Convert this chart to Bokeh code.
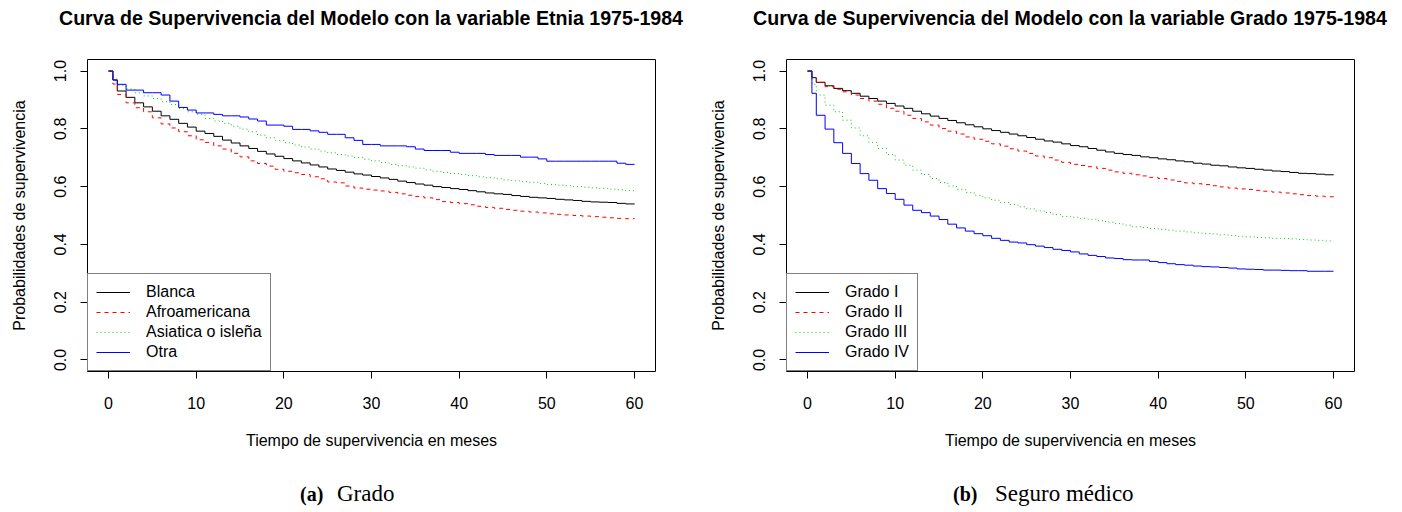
from bokeh.plotting import figure
from bokeh.layouts import row, column
from bokeh.models import (FixedTicker, PrintfTickFormatter, Range1d,
                          Legend, LegendItem, Div)
from bokeh.embed import file_html
from bokeh.resources import INLINE

# Survival time grid (months)
months = [0, 0.5] + list(range(1, 61))

x_ticks = [0, 10, 20, 30, 40, 50, 60]
y_ticks = [0.0, 0.2, 0.4, 0.6, 0.8, 1.0]

# --- Panel (a): ethnicity -------------------------------------------------
etnia_title = "Curva de Supervivencia del Modelo con la variable Etnia 1975-1984"
etnia_labels = ["Blanca", "Afroamericana", "Asiatica o isleña", "Otra"]

blanca = [1.0, 0.969,
          0.931, 0.909, 0.890, 0.876, 0.861, 0.845, 0.833, 0.819, 0.806, 0.792,
          0.784, 0.774, 0.761, 0.751, 0.741, 0.732, 0.722, 0.713, 0.705, 0.697,
          0.689, 0.682, 0.675, 0.668, 0.661, 0.656, 0.650, 0.644, 0.640, 0.635,
          0.630, 0.625, 0.619, 0.614, 0.609, 0.605, 0.600, 0.597, 0.593, 0.590,
          0.586, 0.582, 0.578, 0.575, 0.573, 0.569, 0.566, 0.563, 0.561, 0.559,
          0.556, 0.554, 0.552, 0.549, 0.547, 0.546, 0.545, 0.542, 0.540, 0.539]

afroamericana = [1.0, 0.955,
                 0.919, 0.890, 0.873, 0.859, 0.838, 0.817, 0.803, 0.790, 0.776, 0.762,
                 0.753, 0.741, 0.730, 0.715, 0.703, 0.689, 0.680, 0.671, 0.660, 0.653,
                 0.648, 0.642, 0.634, 0.627, 0.616, 0.613, 0.602, 0.595, 0.591, 0.588,
                 0.585, 0.580, 0.575, 0.570, 0.566, 0.561, 0.555, 0.548, 0.545, 0.541,
                 0.537, 0.532, 0.528, 0.525, 0.521, 0.518, 0.515, 0.512, 0.509, 0.506,
                 0.504, 0.502, 0.500, 0.498, 0.496, 0.494, 0.492, 0.490, 0.489, 0.488]

asiatica = [1.0, 0.972,
            0.951, 0.938, 0.925, 0.914, 0.905, 0.894, 0.884, 0.870, 0.859, 0.850,
            0.836, 0.827, 0.819, 0.809, 0.799, 0.790, 0.778, 0.769, 0.760, 0.752,
            0.744, 0.737, 0.730, 0.723, 0.717, 0.711, 0.706, 0.701, 0.695, 0.689,
            0.683, 0.677, 0.672, 0.668, 0.664, 0.658, 0.653, 0.649, 0.645, 0.642,
            0.638, 0.634, 0.631, 0.627, 0.623, 0.620, 0.617, 0.615, 0.611, 0.607,
            0.605, 0.603, 0.600, 0.598, 0.596, 0.594, 0.591, 0.589, 0.586, 0.585]

otra = [1.0, 0.969,
        0.954, 0.934, 0.934, 0.925, 0.925, 0.917, 0.896, 0.874, 0.865, 0.855,
        0.855, 0.850, 0.845, 0.845, 0.841, 0.834, 0.827, 0.813, 0.813, 0.809,
        0.798, 0.798, 0.793, 0.788, 0.781, 0.781, 0.769, 0.760, 0.746, 0.746,
        0.741, 0.741, 0.741, 0.738, 0.730, 0.725, 0.725, 0.725, 0.719, 0.715,
        0.715, 0.715, 0.711, 0.708, 0.708, 0.708, 0.702, 0.702, 0.696, 0.688,
        0.688, 0.688, 0.688, 0.688, 0.688, 0.688, 0.688, 0.681, 0.677, 0.677]

# --- Panel (b): tumour grade ----------------------------------------------
grado_title = "Curva de Supervivencia del Modelo con la variable Grado 1975-1984"
grado_labels = ["Grado I", "Grado II", "Grado III", "Grado IV"]

grado_1 = [1.0, 0.977,
           0.961, 0.949, 0.940, 0.932, 0.923, 0.913, 0.905, 0.896, 0.888, 0.879,
           0.871, 0.861, 0.852, 0.844, 0.836, 0.829, 0.821, 0.814, 0.807, 0.800,
           0.794, 0.788, 0.782, 0.776, 0.770, 0.764, 0.758, 0.754, 0.748, 0.742,
           0.738, 0.732, 0.726, 0.720, 0.715, 0.711, 0.708, 0.703, 0.700, 0.696,
           0.693, 0.689, 0.686, 0.681, 0.678, 0.674, 0.672, 0.668, 0.665, 0.663,
           0.660, 0.657, 0.654, 0.652, 0.649, 0.646, 0.645, 0.643, 0.641, 0.640]

grado_2 = [1.0, 0.977,
           0.961, 0.946, 0.937, 0.928, 0.917, 0.905, 0.896, 0.885, 0.871, 0.861,
           0.847, 0.836, 0.824, 0.813, 0.801, 0.792, 0.782, 0.772, 0.764, 0.757,
           0.748, 0.740, 0.731, 0.723, 0.715, 0.706, 0.700, 0.692, 0.684, 0.677,
           0.673, 0.669, 0.663, 0.657, 0.651, 0.646, 0.641, 0.637, 0.632, 0.628,
           0.623, 0.618, 0.613, 0.610, 0.607, 0.603, 0.599, 0.595, 0.592, 0.590,
           0.587, 0.584, 0.581, 0.578, 0.575, 0.572, 0.569, 0.567, 0.565, 0.563]

grado_3 = [1.0, 0.954,
           0.917, 0.882, 0.859, 0.830, 0.803, 0.776, 0.753, 0.732, 0.711, 0.692,
           0.674, 0.657, 0.642, 0.628, 0.614, 0.602, 0.591, 0.580, 0.570, 0.561,
           0.553, 0.545, 0.538, 0.530, 0.523, 0.516, 0.510, 0.503, 0.497, 0.494,
           0.490, 0.487, 0.482, 0.477, 0.472, 0.467, 0.461, 0.458, 0.455, 0.452,
           0.449, 0.446, 0.443, 0.440, 0.438, 0.436, 0.433, 0.431, 0.428, 0.426,
           0.424, 0.423, 0.421, 0.420, 0.419, 0.417, 0.415, 0.414, 0.412, 0.411]

grado_4 = [1.0, 0.923,
           0.847, 0.799, 0.752, 0.715, 0.680, 0.645, 0.622, 0.593, 0.576, 0.556,
           0.536, 0.518, 0.510, 0.498, 0.486, 0.470, 0.457, 0.446, 0.437, 0.430,
           0.421, 0.414, 0.408, 0.405, 0.399, 0.394, 0.389, 0.383, 0.379, 0.374,
           0.367, 0.362, 0.358, 0.353, 0.351, 0.347, 0.346, 0.346, 0.341, 0.337,
           0.333, 0.330, 0.328, 0.325, 0.323, 0.322, 0.320, 0.318, 0.315, 0.314,
           0.313, 0.311, 0.311, 0.310, 0.309, 0.309, 0.307, 0.307, 0.307, 0.307]

# Sub-figure captions: bold tag + plain text
caption_tags = ["(a)", "(b)"]
caption_texts = ["Grado", "Seguro médico"]

# Line styles shared by both panels (solid, dashed, dotted, solid)
colors = ["black", "#FF0000", "#00CD00", "#0000FF"]
dashes = ["solid", "4 4", "1 3", "solid"]

SANS = "Liberation Sans"
SERIF = "Liberation Serif"

FRAME_L, FRAME_R = 87, 655          # frame edges inside each panel (px)
FRAME_T, FRAME_B = 59, 371          # frame edges measured from page top
TOP_H, MAIN_H, CAP_H = 40, 442, 30  # stacked heights, 512 px in total


def title_div(width, title):
    centre = (FRAME_L + FRAME_R) // 2
    html = ('<div style="position:relative;width:%dpx;height:%dpx;">'
            '<div style="position:absolute;left:0;top:8px;width:%dpx;'
            "text-align:center;white-space:nowrap;font-family:'%s';"
            'font-weight:bold;font-size:19.6px;line-height:20px;color:black;">'
            '%s</div></div>') % (width, TOP_H, 2 * centre, SANS, title)
    return Div(text=html, width=width, height=TOP_H, margin=0)


def caption_div(width, tag, caption, tag_x, cap_x):
    span = ('<span style="position:absolute;left:%dpx;top:0px;'
            "white-space:nowrap;font-family:'%s';font-size:%dpx;"
            'font-weight:%s;line-height:24px;color:black;">%s</span>')
    html = ('<div style="position:relative;width:%dpx;height:%dpx;">' % (width, CAP_H)
            + span % (tag_x, SERIF, 20, "bold", tag)
            + span % (cap_x, SERIF, 23, "normal", caption)
            + '</div>')
    return Div(text=html, width=width, height=CAP_H, margin=0)


def survival_panel(names, curves, width):
    p = figure(width=width, height=MAIN_H,
               x_range=Range1d(-2.4, 62.4), y_range=Range1d(-0.04, 1.04),
               output_backend="svg", toolbar_location=None,
               min_border_left=FRAME_L, min_border_right=width - FRAME_R,
               min_border_top=FRAME_T - TOP_H,
               min_border_bottom=TOP_H + MAIN_H - FRAME_B)
    p.grid.visible = False
    p.outline_line_color = "black"
    p.outline_line_width = 1
    p.background_fill_color = "white"
    p.border_fill_color = "white"

    for ax in (p.xaxis[0], p.yaxis[0]):
        ax.axis_line_color = None
        ax.major_tick_in = 0
        ax.major_tick_out = 7
        ax.major_tick_line_color = "black"
        ax.minor_tick_line_color = None
        ax.major_label_text_font = SANS
        ax.major_label_text_font_size = "16px"
        ax.major_label_text_color = "black"
        ax.axis_label_text_font = SANS
        ax.axis_label_text_font_size = "16px"
        ax.axis_label_text_font_style = "normal"
        ax.axis_label_text_color = "black"

    p.xaxis.ticker = FixedTicker(ticks=x_ticks)
    p.xaxis.major_label_standoff = 18
    p.xaxis.axis_label = "Tiempo de supervivencia en meses"
    p.xaxis.axis_label_standoff = 20

    p.yaxis.ticker = FixedTicker(ticks=y_ticks)
    p.yaxis.formatter = PrintfTickFormatter(format="%.1f")
    p.yaxis.major_label_orientation = "vertical"
    p.yaxis.major_label_standoff = 14
    p.yaxis.axis_label = "Probabilidades de supervivencia"
    p.yaxis.axis_label_standoff = 24

    items = []
    for name, ys, c, d in zip(names, curves, colors, dashes):
        r = p.step(months, ys, mode="after", line_color=c, line_width=1,
                   line_dash=d)
        items.append(LegendItem(label=name, renderers=[r]))

    legend = Legend(items=items, location="bottom_left", margin=0, padding=8,
                    spacing=0, glyph_width=34, glyph_height=20, label_height=20,
                    label_standoff=16, border_line_color="black",
                    border_line_width=1, background_fill_color="white",
                    background_fill_alpha=1.0, label_text_font=SANS,
                    label_text_font_size="16px", label_text_color="black")
    p.add_layout(legend)
    return p


W1, W2 = 699, 703

p1 = survival_panel(etnia_labels, [blanca, afroamericana, asiatica, otra], W1)
p2 = survival_panel(grado_labels, [grado_1, grado_2, grado_3, grado_4], W2)

layout = column(
    row(title_div(W1, etnia_title), title_div(W2, grado_title)),
    row(p1, p2),
    row(caption_div(W1, caption_tags[0], caption_texts[0], 300, 337),
        caption_div(W2, caption_tags[1], caption_texts[1], 254, 296)),
)
open("out.html", "w").write(file_html(layout, INLINE))
